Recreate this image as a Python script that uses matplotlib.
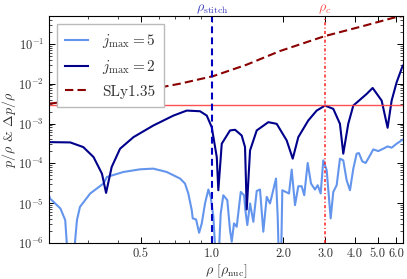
import matplotlib
matplotlib.use("Agg")
import matplotlib.pyplot as plt
from matplotlib.ticker import FixedLocator, FixedFormatter, LogLocator, NullFormatter

plt.rcParams['font.family'] = 'serif'
plt.rcParams['font.serif'] = ['cmr10', 'DejaVu Serif']
plt.rcParams['mathtext.fontset'] = 'cm'
plt.rcParams['axes.formatter.use_mathtext'] = True
plt.rcParams['axes.unicode_minus'] = False

# jmax = 2 (dark blue)
rho_j2 = [0.205, 0.252, 0.286, 0.316, 0.343, 0.357, 0.377, 0.409, 0.466, 0.565,
          0.687, 0.782, 0.890, 0.950, 0.997, 1.047, 1.063, 1.099, 1.191, 1.251,
          1.334, 1.378, 1.401, 1.447, 1.544, 1.728, 1.875, 2.066, 2.191, 2.313,
          2.548, 2.765, 2.999, 3.250, 3.467, 3.581, 3.758, 3.948, 4.496, 4.764,
          5.200, 5.510, 5.730, 6.015, 6.38]
err_j2 = [3.41e-4, 3.35e-4, 2.56e-4, 1.44e-4, 5.5e-5, 1.81e-5, 8.1e-5, 2.33e-4, 4.55e-4, 8.9e-4,
          1.58e-3, 2.11e-3, 2.03e-3, 1.58e-3, 8.1e-4, 1.44e-4, 2.11e-5, 3.11e-4, 6.7e-4, 6.96e-4,
          5.0e-4, 2.56e-4, 6.96e-6, 2.11e-4, 6.7e-4, 1.08e-3, 9.8e-4, 3.76e-4, 1.31e-4, 4.55e-4,
          1.19e-3, 2.11e-3, 2.82e-3, 2.33e-3, 9.8e-4, 1.75e-4, 9.8e-4, 2.82e-3, 5.53e-3, 7.8e-3,
          3.76e-3, 7.8e-4, 3.76e-3, 1.08e-2, 2.82e-2]

# jmax = 5 (light blue)
rho_j5 = [0.205, 0.207, 0.229, 0.240, 0.247, 0.259, 0.269, 0.277, 0.306, 0.348,
          0.360, 0.422, 0.497, 0.565, 0.644, 0.733, 0.769, 0.794, 0.821, 0.829,
          0.856, 0.882, 0.905, 0.934, 0.965, 0.987, 1.013, 1.040, 1.063, 1.088,
          1.116, 1.160, 1.191, 1.211, 1.238, 1.271, 1.322, 1.365, 1.384, 1.409,
          1.447, 1.494, 1.544, 1.594, 1.646, 1.702, 1.757, 1.862, 1.893, 1.917,
          1.955, 1.980, 2.046, 2.113, 2.169, 2.240, 2.313, 2.390, 2.450, 2.534,
          2.617, 2.720, 2.793, 2.875, 2.949, 3.048, 3.168, 3.250, 3.358, 3.467,
          3.581, 3.700, 3.822, 3.948, 4.078, 4.169, 4.307, 4.452, 4.642, 4.793,
          5.032, 5.283, 5.510, 5.730, 6.015, 6.38]
err_j5 = [1.58e-5, 1.31e-5, 7.37e-6, 3.76e-6, 3e-7, 3e-7, 3.76e-6, 8.08e-6, 1.75e-5, 3.11e-5,
          4.55e-5, 6.06e-5, 7.08e-5, 7.37e-5, 6.06e-5, 4.15e-5, 3.11e-5, 1.75e-5, 6.68e-6, 4.15e-6,
          3.91e-6, 1.81e-6, 3.11e-6, 9.83e-6, 2.20e-5, 1.44e-5, 4.55e-6, 3e-7, 3e-7, 5.53e-6,
          1.58e-5, 1.19e-5, 2.11e-6, 1.08e-6, 3.11e-6, 2.56e-6, 1.92e-5, 1.58e-5, 6.31e-6, 2.82e-6,
          9.83e-6, 3.41e-6, 2.03e-5, 2.20e-5, 1.92e-6, 1.44e-5, 9.83e-6, 4.15e-5, 4.55e-6, 3e-7,
          3e-7, 2.11e-5, 1.92e-5, 1.75e-5, 6.96e-5, 8.91e-6, 2.66e-5, 2.66e-5, 1.58e-5, 1.02e-4,
          3.11e-5, 2.20e-5, 2.82e-5, 1.75e-5, 1.19e-4, 6.68e-5, 4.15e-6, 1.92e-5, 2.82e-5, 1.31e-4,
          1.19e-4, 3.76e-5, 2.11e-5, 7.37e-5, 1.75e-4, 1.81e-4, 1.12e-4, 1.02e-4, 1.58e-4, 2.24e-4,
          2.03e-4, 2.33e-4, 2.66e-4, 2.47e-4, 3.11e-4, 3.91e-4]

# SLy1.35 p/rho
rho_sly = [0.205, 0.337, 0.547, 0.733, 1.013, 1.401, 1.936, 3.0, 4.35, 5.82, 6.4]
p_sly = [3.15e-3, 4.4e-3, 7.2e-3, 1.0e-2, 1.55e-2, 3.0e-2, 6.6e-2, 0.157, 0.28, 0.45, 0.5]

err_level = 2.9e-3
rho_stitch = 1.0
rho_c = 3.0

xticks = [0.5, 1.0, 2.0, 3.0, 4.0, 5.0, 6.0]
xtick_labels = ['0.5', '1.0', '2.0', '3.0', '4.0', '5.0', '6.0']

fig = plt.figure(figsize=(4.07, 2.79), dpi=100)
ax = fig.add_axes([0.1204, 0.129, 0.8698, 0.8137])

ax.plot(rho_j5, err_j5, color='#6495ED', lw=1.5, label=r'$j_{\max} = 5$')
ax.plot(rho_j2, err_j2, color='#00008B', lw=1.5, label=r'$j_{\max} = 2$')
ax.plot(rho_sly, p_sly, color='#8B0000', lw=1.5, ls=(0, (4, 2)), label='SLy1.35')
ax.axhline(err_level, color='#FF4040', lw=1.0, alpha=0.9)
ax.axvline(rho_stitch, color='#0000C0', lw=1.5, ls=(0, (3.3, 2)))
ax.axvline(rho_c, color='#FF2020', lw=1.1, ls=(0, (2, 1.5, 0.7, 1.5)))

ax.set_xscale('log')
ax.set_yscale('log')
ax.set_xlim(0.205, 6.4)
ax.set_ylim(1e-6, 0.5)

ax.xaxis.set_major_locator(FixedLocator(xticks))
ax.xaxis.set_major_formatter(FixedFormatter(xtick_labels))
ax.xaxis.set_minor_locator(LogLocator(base=10, subs=range(2, 10), numticks=20))
ax.xaxis.set_minor_formatter(NullFormatter())
ax.yaxis.set_major_locator(LogLocator(base=10, numticks=10))
ax.yaxis.set_minor_locator(LogLocator(base=10, subs=range(2, 10), numticks=20))
ax.yaxis.set_minor_formatter(NullFormatter())

ax.tick_params(which='both', direction='in', top=True, right=True, labelsize=9,
               labelcolor='#333333')
ax.tick_params(which='major', length=4, width=0.7)
ax.tick_params(which='minor', length=2, width=0.5)

xtrans = ax.get_xaxis_transform()
ax.text(rho_stitch, 1.0, r'$\rho_{\rm stitch}$', color='#4040C0', fontsize=10,
        ha='center', va='bottom', transform=xtrans)
ax.text(rho_c, 1.0, r'$\rho_c$', color='#FF5050', fontsize=10,
        ha='center', va='bottom', transform=xtrans)

ax.set_xlabel(r'$\rho\ [\rho_{\rm nuc}]$', fontsize=10, color='#333333', labelpad=2)
ax.set_ylabel(r'$p/\rho$ & $\Delta p/\rho$', fontsize=10, color='#333333', va='center')
ax.yaxis.set_label_coords(-0.112, 0.5)

leg = ax.legend(loc='upper left', fontsize=11, fancybox=False, framealpha=1,
                edgecolor='#BBBBBB', handlelength=1.5, handletextpad=0.9,
                borderpad=0.55, labelspacing=0.55, borderaxespad=0.5)
leg.get_frame().set_linewidth(1.0)
for t in leg.get_texts():
    t.set_color('#333333')

fig.savefig('out.png', dpi=100)
